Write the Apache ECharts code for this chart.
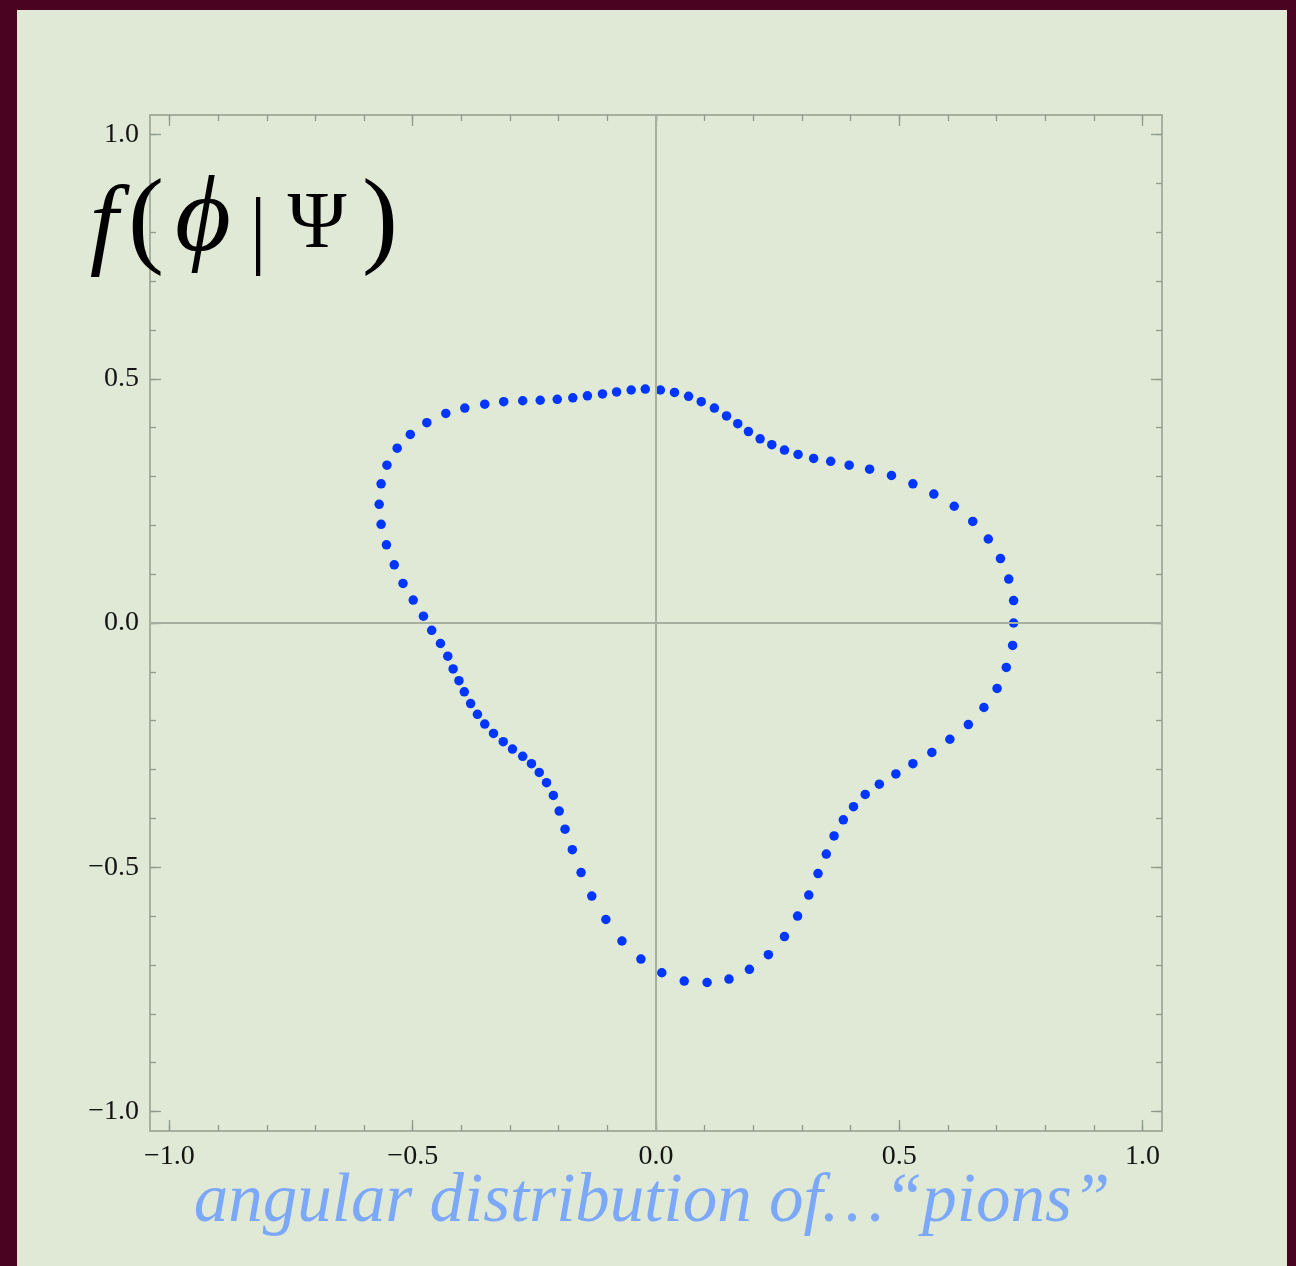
<!DOCTYPE html>
<html>
<head>
<meta charset="utf-8">
<script src="https://cdn.jsdelivr.net/npm/echarts@6/dist/echarts.min.js"></script>
<style>
  html, body { margin: 0; padding: 0; background: #4a0422; width: 1296px; height: 1266px; overflow: hidden; }
  #chart { position: absolute; left: 17px; top: 10px; width: 1270px; height: 1256px; }
</style>
</head>
<body>
<div id="chart"></div>
<script>
// ---- data (polar plot of f(phi|Psi) as x/y points) ----
const xValues = [
  0.735, 0.735, 0.725, 0.708, 0.683, 0.651, 0.613, 0.571, 0.528, 0.484,
  0.439, 0.397, 0.359, 0.324, 0.292, 0.264, 0.238, 0.214, 0.190, 0.168,
  0.145, 0.120, 0.093, 0.067, 0.038, 0.009, -0.022, -0.051, -0.081, -0.110,
  -0.141, -0.171, -0.203, -0.238, -0.274, -0.313, -0.352, -0.393, -0.432, -0.471,
  -0.505, -0.532, -0.553, -0.565, -0.569, -0.565, -0.554, -0.538, -0.520, -0.499,
  -0.478, -0.461, -0.443, -0.428, -0.417, -0.405, -0.394, -0.381, -0.367, -0.352,
  -0.334, -0.314, -0.295, -0.274, -0.256, -0.240, -0.225, -0.211, -0.199, -0.187,
  -0.172, -0.154, -0.132, -0.103, -0.070, -0.031, 0.012, 0.058, 0.105, 0.150,
  0.192, 0.231, 0.264, 0.291, 0.314, 0.333, 0.350, 0.366, 0.385, 0.406,
  0.430, 0.459, 0.493, 0.528, 0.567, 0.604, 0.642, 0.674, 0.701, 0.720,
  0.733
];
const yValues = [
  0.000, 0.046, 0.090, 0.132, 0.172, 0.208, 0.239, 0.264, 0.285, 0.302,
  0.315, 0.323, 0.331, 0.337, 0.345, 0.354, 0.365, 0.377, 0.392, 0.408,
  0.424, 0.440, 0.453, 0.464, 0.472, 0.477, 0.479, 0.477, 0.473, 0.469,
  0.465, 0.461, 0.458, 0.456, 0.455, 0.453, 0.448, 0.440, 0.429, 0.410,
  0.386, 0.358, 0.323, 0.285, 0.243, 0.202, 0.160, 0.119, 0.081, 0.047,
  0.014, -0.015, -0.042, -0.068, -0.094, -0.118, -0.141, -0.165, -0.187, -0.207,
  -0.226, -0.243, -0.258, -0.273, -0.288, -0.306, -0.327, -0.353, -0.385, -0.422,
  -0.464, -0.511, -0.559, -0.607, -0.651, -0.688, -0.716, -0.733, -0.736, -0.729,
  -0.709, -0.679, -0.642, -0.600, -0.557, -0.513, -0.473, -0.436, -0.403, -0.376,
  -0.351, -0.330, -0.309, -0.288, -0.265, -0.238, -0.208, -0.173, -0.134, -0.091,
  -0.046
];
const majorTicks = [-1.0, -0.5, 0.0, 0.5, 1.0];
const minorTicks = [-1.0, -0.9, -0.8, -0.7, -0.6, -0.5, -0.4, -0.3, -0.2, -0.1,
                    0.0, 0.1, 0.2, 0.3, 0.4, 0.5, 0.6, 0.7, 0.8, 0.9, 1.0];
const axisMin = -1.04, axisMax = 1.04;
const bottomText = 'angular distribution of\u2026\u201Cpions\u201D';

// ---- styling ----
const frameColor = '#a6b0a1';
const tickColor = '#8f998c';
const labelFont = { fontFamily: '"Liberation Serif", serif', fontSize: 28, color: '#141414' };
const fmt = v => (v < 0 ? '\u2212' : '') + Math.abs(v).toFixed(1);

function makeAxis(kind, position, ticks, len, withLabels) {
  return {
    type: 'value', position: position, min: axisMin, max: axisMax, offset: 0,
    axisLine: { show: false, onZero: false },
    splitLine: { show: false },
    axisTick: { show: true, inside: true, length: len, customValues: ticks,
                lineStyle: { color: tickColor, width: 1.3 } },
    axisLabel: withLabels
      ? Object.assign({ show: true, customValues: ticks, formatter: fmt, margin: kind === 'x' ? 12 : 11 }, labelFont)
      : { show: false }
  };
}

const chart = echarts.init(document.getElementById('chart'), null, { renderer: 'canvas' });
const points = xValues.map((x, i) => [x, yValues[i]]);

const mathFont = '"Liberation Serif", "DejaVu Serif", serif';
const glyph = (t, x, y, size, italic) => ({
  type: 'text', x: x - 17, y: y - 10, z: 10,
  style: { text: t, font: (italic ? 'italic ' : '') + size + 'px ' + mathFont,
           fill: '#000', align: 'center', verticalAlign: 'middle' }
});

chart.setOption({
  animation: false,
  backgroundColor: '#dfe9d5',
  grid: { left: 133, top: 105, width: 1012, height: 1016, show: true,
          borderColor: frameColor, borderWidth: 2, backgroundColor: 'transparent' },
  xAxis: [
    makeAxis('x', 'bottom', majorTicks, 11, true),
    makeAxis('x', 'bottom', minorTicks, 6, false),
    makeAxis('x', 'top', majorTicks, 11, false),
    makeAxis('x', 'top', minorTicks, 6, false)
  ],
  yAxis: [
    makeAxis('y', 'left', majorTicks, 11, true),
    makeAxis('y', 'left', minorTicks, 6, false),
    makeAxis('y', 'right', majorTicks, 11, false),
    makeAxis('y', 'right', minorTicks, 6, false)
  ],
  series: [
    {
      type: 'scatter', xAxisIndex: 0, yAxisIndex: 0, data: [], z: 1, silent: true,
      markLine: {
        silent: true, symbol: ['none', 'none'], label: { show: false },
        lineStyle: { color: frameColor, width: 2, type: 'solid' },
        data: [{ xAxis: 0 }, { yAxis: 0 }]
      }
    },
    {
      type: 'scatter', xAxisIndex: 0, yAxisIndex: 0, z: 3,
      data: points, symbol: 'circle', symbolSize: 9.5,
      itemStyle: { color: '#0036ff', opacity: 1 }
    }
  ],
  graphic: [
    glyph('f', 104, 228, 102, true),
    glyph('(', 146, 225, 108, false),
    glyph('\u03D5', 203, 222, 108, true),
    glyph('|', 258, 234, 86, false),
    glyph('\u03A8', 317, 226, 80, false),
    glyph(')', 380, 225, 108, false),
    {
      type: 'text', x: 652 - 17, y: 1203 - 10, z: 10,
      style: { text: bottomText, font: 'italic 69px ' + mathFont,
               fill: '#7ca8fa', align: 'center', verticalAlign: 'middle' }
    }
  ]
});
</script>
</body>
</html>
